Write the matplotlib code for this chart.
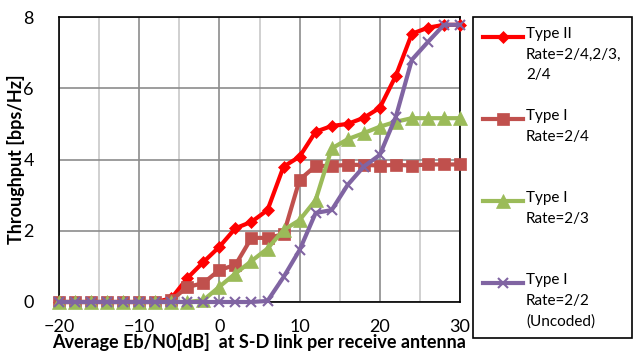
import numpy as np
import matplotlib
matplotlib.use("Agg")
import matplotlib.pyplot as plt
from matplotlib.lines import Line2D
from matplotlib.patches import Rectangle

plt.rcParams['font.family'] = ['Lato', 'DejaVu Sans']

# Eb/N0 sweep [dB]
snr = list(range(-20, 31, 2))

# throughput [bps/Hz]
type2_adaptive = [0, 0, 0, 0, 0, 0, 0, 0.1, 0.67, 1.12, 1.55, 2.07, 2.25, 2.58, 3.8,
                  4.08, 4.78, 4.94, 5.0, 5.17, 5.45, 6.35, 7.53, 7.7, 7.78, 7.78]
type1_r24 = [0, 0, 0, 0, 0, 0, 0, 0.05, 0.42, 0.53, 0.9, 1.04, 1.8, 1.8, 1.9,
             3.43, 3.82, 3.82, 3.85, 3.85, 3.83, 3.85, 3.83, 3.86, 3.86, 3.86]
type1_r23 = [0, 0, 0, 0, 0, 0, 0, 0, 0, 0.05, 0.43, 0.8, 1.15, 1.5, 2.02,
             2.3, 2.86, 4.31, 4.57, 4.74, 4.92, 5.06, 5.16, 5.16, 5.16, 5.16]
type1_uncoded = [0, 0, 0, 0, 0, 0, 0, 0, 0, 0, 0, 0, 0, 0.03, 0.7,
                 1.46, 2.5, 2.58, 3.29, 3.8, 4.13, 5.2, 6.8, 7.3, 7.78, 7.78]

labels = ["Type II\nRate=2/4,2/3,\n2/4", "Type I\nRate=2/4", "Type I\nRate=2/3",
          "Type I\nRate=2/2\n(Uncoded)"]
series = [type2_adaptive, type1_r24, type1_r23, type1_uncoded]
colors = ["#FF0000", "#C0504D", "#9BBB59", "#8064A2"]
markers = ["D", "s", "^", "x"]
msizes = [6.5, 9, 9.5, 7]

fig = plt.figure(figsize=(6.34, 3.54), dpi=100)
ax = fig.add_axes([59 / 634, 52 / 354, 401 / 634, 285 / 354])

for y, c, m, ms in zip(series, colors, markers, msizes):
    ax.plot(snr, y, color=c, marker=m, markersize=ms, linewidth=3,
            markeredgewidth=1.5 if m == "x" else 0.5, markeredgecolor=c,
            clip_on=False, zorder=3)

ax.set_xlim(-20, 30)
ax.set_ylim(0, 8)
ax.set_xticks(range(-20, 31, 10))
ax.set_yticks(range(0, 9, 2))
ax.set_xticks(range(-15, 30, 10), minor=True)
ax.grid(True, which="major", color="#8c8c8c", linewidth=1.2)
ax.grid(True, which="minor", axis="x", color="#c8c8c8", linewidth=1.2)
ax.set_axisbelow(True)
ax.tick_params(which="both", length=0, labelsize=13)
ax.tick_params(axis="x", pad=12)
ax.tick_params(axis="y", pad=18)
for sp in ax.spines.values():
    sp.set_color("black")
    sp.set_linewidth(1.2)

ax.set_xlabel("Average Eb/N0[dB]  at S-D link per receive antenna",
              fontsize=13, fontweight="bold", labelpad=-1)
ax.set_ylabel("Throughput [bps/Hz]", fontsize=13, fontweight="bold", labelpad=-1)

# legend box to the right of the plot
fig.patches.append(Rectangle((473 / 634, 16 / 354), 159 / 634, 321 / 354,
                             transform=fig.transFigure, fill=False,
                             edgecolor="black", linewidth=1.2))
entry_tops = [37, 119, 201, 283]
for top, lab, c, m, ms in zip(entry_tops, labels, colors, markers, msizes):
    yf = 1 - top / 354
    fig.lines.append(Line2D([483 / 634, 523 / 634], [yf, yf], transform=fig.transFigure,
                            color=c, linewidth=3))
    fig.lines.append(Line2D([503 / 634], [yf], transform=fig.transFigure, color=c,
                            marker=m, markersize=ms, markeredgecolor=c,
                            markeredgewidth=1.5 if m == "x" else 0.5))
    fig.text(526 / 634, yf + 10 / 354, lab, fontsize=11, va="top", ha="left",
             linespacing=1.6)

fig.savefig("out.png", dpi=100)
